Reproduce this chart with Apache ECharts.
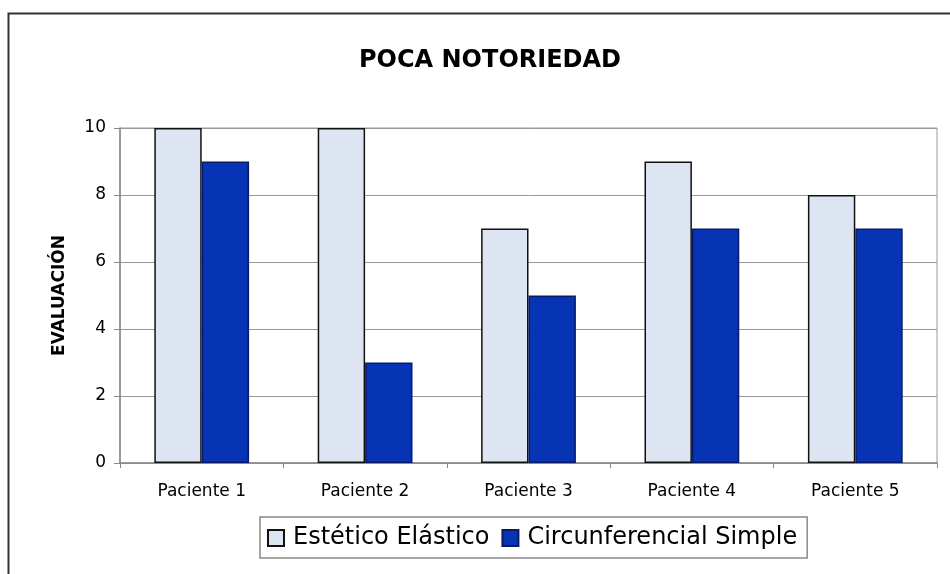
<!DOCTYPE html>
<html>
<head>
<meta charset="utf-8">
<script src="https://cdn.jsdelivr.net/npm/echarts@6/dist/echarts.min.js"></script>
<style>
    html, body { margin: 0; padding: 0; background: #fff; }
    #chart { width: 950px; height: 574px; }
</style>
</head>
<body>
<div id="chart"></div>
<script>
var categories = ['Paciente 1', 'Paciente 2', 'Paciente 3', 'Paciente 4', 'Paciente 5'];
var esteticoElastico = [10, 10, 7, 9, 8];
var circunferencialSimple = [9, 3, 5, 7, 7];
var seriesNames = ['Estético Elástico', 'Circunferencial Simple'];

var myChart = echarts.init(document.getElementById('chart'), null, {width: 950, height: 574});
var option = {
    animation: false,
    backgroundColor: '#fff',
    graphic: [
        {
            type: 'rect',
            shape: {x: 8.5, y: 13.5, width: 960, height: 600},
            style: {fill: 'none', stroke: '#333', lineWidth: 2}
        }
    ],
    title: {
        text: 'POCA NOTORIEDAD',
        left: 485,
        top: 44,
        textAlign: 'center',
        textStyle: {fontFamily: 'DejaVu Sans', fontSize: 24, fontWeight: 'bold', color: '#000'}
    },
    legend: {
        data: seriesNames,
        left: 260,
        top: 517,
        padding: [9, 10, 8, 7],
        itemGap: 12,
        itemWidth: 16,
        itemHeight: 16,
        icon: 'rect',
        borderColor: '#888',
        borderWidth: 1.5,
        textStyle: {fontFamily: 'DejaVu Sans', fontSize: 24, color: '#000', padding: [0, 0, 0, 4]}
    },
    grid: {
        left: 120,
        right: 13,
        top: 128,
        bottom: 111,
        show: true,
        borderColor: '#999',
        borderWidth: 1
    },
    xAxis: {
        type: 'category',
        data: categories,
        axisLine: {lineStyle: {color: '#888', width: 1.5}},
        axisTick: {show: true, length: 5, lineStyle: {color: '#888'}},
        axisLabel: {fontFamily: 'DejaVu Sans', fontSize: 17, color: '#000', margin: 20}
    },
    yAxis: {
        type: 'value',
        min: 0,
        max: 10,
        interval: 2,
        name: 'EVALUACIÓN',
        nameLocation: 'middle',
        nameGap: 52,
        nameTextStyle: {fontFamily: 'DejaVu Sans', fontSize: 17, fontWeight: 'bold', color: '#000'},
        axisLine: {show: true, lineStyle: {color: '#888', width: 1.5}},
        axisTick: {show: true, length: 6, lineStyle: {color: '#888'}},
        axisLabel: {fontFamily: 'DejaVu Sans', fontSize: 17, color: '#000', margin: 14},
        splitLine: {lineStyle: {color: '#999', width: 1}}
    },
    series: [
        {
            name: seriesNames[0],
            type: 'bar',
            barGap: '0%',
            barCategoryGap: '42%',
            itemStyle: {color: '#dde5f2', borderColor: '#111', borderWidth: 1.5},
            data: esteticoElastico
        },
        {
            name: seriesNames[1],
            type: 'bar',
            itemStyle: {color: '#0733b5', borderColor: '#0b1a66', borderWidth: 1.5},
            data: circunferencialSimple
        }
    ]
};
myChart.setOption(option, false);
</script>
</body>
</html>
